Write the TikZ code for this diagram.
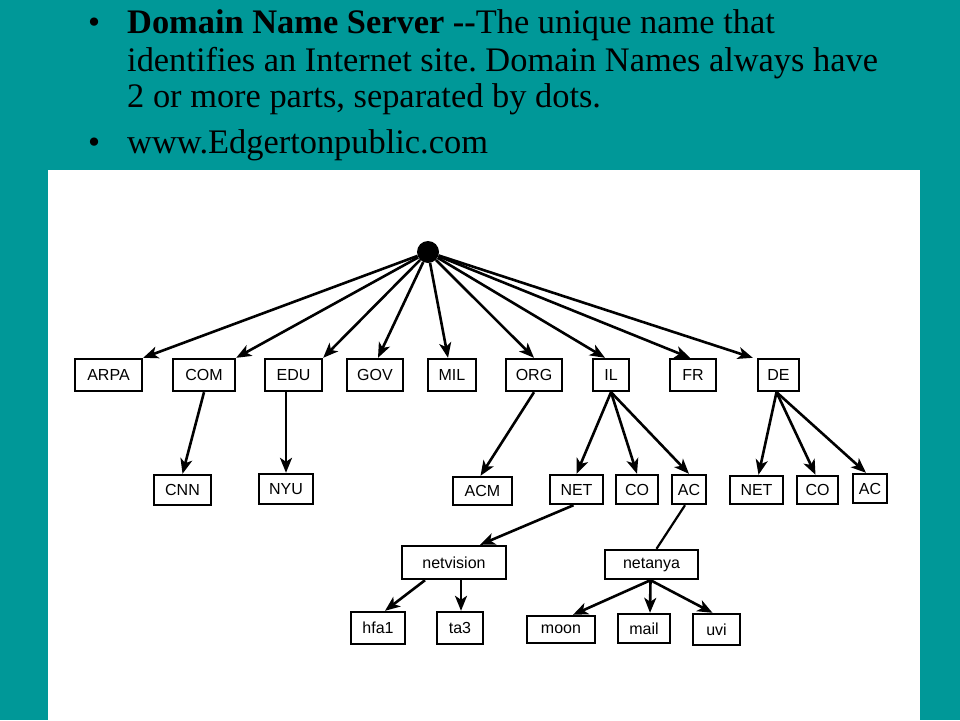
\documentclass[tikz,border=0pt]{standalone}
\usepackage{fontspec}
\setmainfont{Liberation Serif}
\newfontfamily\boxfont{Liberation Sans}
\usetikzlibrary{arrows.meta,calc}
\definecolor{teal1}{RGB}{0,152,152}
\frenchspacing
\tikzset{
  dbox/.style={draw=black, line width=2.4pt, fill=white, inner sep=0pt, font=\boxfont\fontsize{16}{18}\selectfont},
  arr/.style={line width=2.6pt, -{Stealth[length=15pt,width=12pt,inset=4pt]}},
  plain/.style={line width=2.2pt},
  head/.style={anchor=base west, inner sep=0pt, font=\fontsize{34.4}{38}\selectfont, text=black}
}
\begin{document}
\begin{tikzpicture}[x=1pt,y=-1pt]
\useasboundingbox (0,0) rectangle (960,720);
\fill[teal1] (0,0) rectangle (960,720);
\fill[white] (48,170) rectangle (920,720);
% header
\node[head] (b1) at (88,33) {\textbullet};
\node[head] (t1) at (127,33) {\textbf{Domain Name Server -{}-}The unique name that};
\node[head] (t2) at (127,71) {identifies an Internet site. Domain Names always have};
\node[head] (t3) at (127,107) {2 or more parts, separated by dots.};
\node[head] (b2) at (88,153) {\textbullet};
\node[head] (t4) at (127,153) {www.Edgertonpublic.com};
% root
\node[circle, fill=black, inner sep=0pt, minimum size=22pt] (root) at (428,252) {};
% top row
\node[dbox, minimum width=67pt, minimum height=32pt] (arpa) at (108.5,375) {ARPA};
\node[dbox, minimum width=62pt, minimum height=32pt] (com) at (204,375) {COM};
\node[dbox, minimum width=57pt, minimum height=32pt] (edu) at (293.5,375) {EDU};
\node[dbox, minimum width=56pt, minimum height=32pt] (gov) at (375,375) {GOV};
\node[dbox, minimum width=48pt, minimum height=32pt] (mil) at (452,375) {MIL};
\node[dbox, minimum width=56pt, minimum height=32pt] (org) at (534,375) {ORG};
\node[dbox, minimum width=36pt, minimum height=32pt] (il) at (611,375) {IL};
\node[dbox, minimum width=46pt, minimum height=32pt] (fr) at (693,375) {FR};
\node[dbox, minimum width=41pt, minimum height=32pt] (de) at (778.5,375) {DE};
% second row
\node[dbox, minimum width=57pt, minimum height=30pt] (cnn) at (182.5,490) {CNN};
\node[dbox, minimum width=54pt, minimum height=30pt] (nyu) at (286,489) {NYU};
\node[dbox, minimum width=59pt, minimum height=28pt] (acm) at (482.5,491) {ACM};
\node[dbox, minimum width=53pt, minimum height=29pt] (net) at (576.5,489.5) {NET};
\node[dbox, minimum width=42pt, minimum height=29pt] (co) at (637,489.5) {CO};
\node[dbox, minimum width=34pt, minimum height=29pt] (ac) at (689,489.5) {AC};
\node[dbox, minimum width=53pt, minimum height=28pt] (net2) at (756.5,490) {NET};
\node[dbox, minimum width=41pt, minimum height=28pt] (co2) at (817.5,490) {CO};
\node[dbox, minimum width=34pt, minimum height=29pt] (ac2) at (870,488.5) {AC};
% third row
\node[dbox, minimum width=104pt, minimum height=33pt] (netvision) at (454,562.5) {netvision};
\node[dbox, minimum width=93pt, minimum height=29pt] (netanya) at (651.5,564.5) {netanya};
% fourth row
\node[dbox, minimum width=54pt, minimum height=32pt] (hfa) at (378,628) {hfa1};
\node[dbox, minimum width=46pt, minimum height=32pt] (ta) at (460,628) {ta3};
\node[dbox, minimum width=68pt, minimum height=27pt] (moon) at (561,629.5) {moon};
\node[dbox, minimum width=52pt, minimum height=29pt] (mail) at (644,628.5) {mail};
\node[dbox, minimum width=47pt, minimum height=31pt] (uvi) at (716.5,629.5) {uvi};
% root arrows
\draw[arr] (root) -- (arpa.north east);
\draw[arr] (root) -- (com.north east);
\draw[arr] (root) -- (edu.north east);
\draw[arr] (root) -- ($(gov.north)+(3,0)$);
\draw[arr] (root) -- ($(mil.north)+(-4,0)$);
\draw[arr] (root) -- (org.north);
\draw[arr] (root) -- ($(il.north)+(-6,0)$);
\draw[arr] (root) -- ($(fr.north)+(-3,0)$);
\draw[arr] (root) -- ($(de.north west)+(-4,0)$);
% second level
\draw[arr] (com.south) -- (cnn.north);
\draw[arr] (edu.south -| nyu.north) -- (nyu.north);
\draw[arr] (org.south) -- ($(acm.north)+(-2,0)$);
\draw[arr] (il.south) -- (net.north);
\draw[arr] (il.south) -- (co.north);
\draw[arr] (il.south) -- (ac.north);
\draw[arr] ($(de.south)+(-2,0)$) -- ($(net2.north)+(2,0)$);
\draw[arr] ($(de.south)+(-2,0)$) -- ($(co2.north)+(-2,0)$);
\draw[arr] ($(de.south)+(-2,0)$) -- ($(ac2.north)+(-4,0)$);
% third level
\draw[arr] ($(net.south)+(-3,0)$) -- ($(netvision.north)+(26,0)$);
\draw[plain] ($(ac.south)+(-4,0)$) -- ($(netanya.north)+(5,0)$);
% fourth level
\draw[arr] ($(netvision.south)+(-29,0)$) -- ($(hfa.north)+(7,0)$);
\draw[arr] ($(netvision.south)+(7,0)$) -- ($(ta.north)+(1,0)$);
\draw[arr] ($(netanya.south)+(-1,0)$) -- ($(moon.north)+(12,0)$);
\draw[arr] ($(netanya.south)+(-1,0)$) -- ($(mail.north)+(6,0)$);
\draw[arr] ($(netanya.south)+(-1,0)$) -- ($(uvi.north)+(-4,0)$);
\end{tikzpicture}
\end{document}
